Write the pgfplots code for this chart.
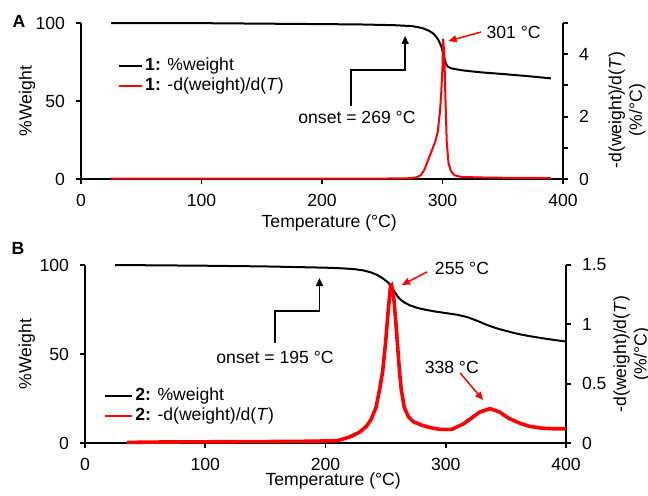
\documentclass[border=0pt]{standalone}
\usepackage{fontspec}
\setmainfont{Liberation Sans}
\usepackage{pgfplots}
\pgfplotsset{compat=1.18}
\usetikzlibrary{arrows.meta}
\newcommand{\fs}{\fontsize{8.8}{10.3}\selectfont}
\pgfplotsset{
  base/.style={scale only axis, anchor=south west, xmin=0, xmax=400,
    tick align=outside, major tick length=2.5pt, minor tick length=2.5pt,
    axis line style={line width=0.9pt,-},
    every tick/.style={line width=0.9pt, black},
    /pgf/number format/assume math mode=true,
    tick label style={font=\fs}, label style={font=\fs},
    clip=false},
  leftax/.style={base, ymin=0, ymax=100, axis x line*=bottom, axis y line*=left,
    xtick={0,100,200,300,400}, ytick={0,50,100},
    xticklabel shift=1.5pt, yticklabel shift=2pt,
    legend cell align=left,
    legend style={draw=none, fill=none, font=\fs, inner sep=0pt, row sep=0pt,
      nodes={inner sep=1.1pt}}},
  rightax/.style={base, axis x line=none, axis y line*=right, yticklabel shift=2pt,
    ylabel style={align=center, rotate=0}},
}
\begin{document}
\begin{tikzpicture}
\useasboundingbox (0,0) rectangle (324pt,247.5pt);
\node[font=\bfseries\fs] at (9.5pt,237pt) {A};
\node[font=\bfseries\fs] at (9pt,123.5pt) {B};
% ---------------- Panel A ----------------
\begin{axis}[leftax, at={(40.5pt,158pt)}, width=241pt, height=78pt,
  xlabel={Temperature (°C)}, ylabel={\%Weight},
  xlabel style={at={(axis description cs:0.515,-0.28)}, anchor=center},
  ylabel style={at={(axis description cs:-0.112,0.5)}, anchor=center},
  legend style={at={(axis description cs:0.076,0.793)}, anchor=north west},
  legend image code/.code={\draw[#1] (0pt,0pt) -- (11.5pt,0pt);}]
\addplot[black, line width=1pt] coordinates {
(25,100) (100,99.9) (165,99.5) (230,99.1) (260,98.6) (275,98) (283,96.8)
(288,95.3) (292,93.5) (295,91) (297,88.5) (299,85) (300,82) (301,79)
(302,76) (303,73.5) (304.5,72) (307,71) (315,69.8) (330,68.5) (350,67.3)
(370,66) (390,64.5)};
\addlegendentry{\textbf{1:} \%weight}
\addlegendimage{red, line width=1pt}
\addlegendentry{\textbf{1:} -d(weight)/d(\textit{T})}
\node[font=\fs] at (axis cs:359,94.2) {301 °C};
\draw[red, line width=0.75pt, -{Triangle[length=4pt,width=3.5pt]}] (axis cs:332,94.2) -- (axis cs:305,88.5);
\draw[black, line width=0.75pt, -{Triangle[length=4pt,width=3.5pt]}] (axis cs:224,46.8) -- (axis cs:224,69.9) -- (axis cs:269,69.9) -- (axis cs:269,91.7);
\node[font=\fs] at (axis cs:229,39.7) {onset = 269 °C};
\end{axis}
\begin{axis}[rightax, at={(40.5pt,158pt)}, width=241pt, height=78pt,
  ymin=0, ymax=5, ytick={0,2,4}, minor ytick={1,3,5},
  ylabel={-d(weight)/d(\textit{T})\\(\%/°C)},
  ylabel style={at={(axis description cs:1.133,0.442)}, anchor=center, rotate=0}]
\addplot[red, line width=1pt] coordinates {
(25,0.01) (100,0.01) (200,0.012) (250,0.015) (270,0.02) (278,0.05) (282,0.12) (285,0.3)
(287,0.5) (290,0.8) (292,1.0) (294,1.2) (296,1.5) (298,2.2) (299,2.8)
(300,3.6) (300.5,4.5) (301.5,4.0) (302.5,2.5) (303.5,1.2) (305,0.5)
(307,0.25) (310,0.12) (315,0.07) (330,0.05) (350,0.04) (370,0.035) (390,0.03)};
\end{axis}
% ---------------- Panel B ----------------
\begin{axis}[leftax, at={(42.5pt,26pt)}, width=240.5pt, height=89pt,
  xlabel={Temperature (°C)}, ylabel={\%Weight},
  xlabel style={at={(axis description cs:0.516,-0.213)}, anchor=center},
  ylabel style={at={(axis description cs:-0.121,0.5)}, anchor=center},
  legend style={at={(axis description cs:0.039,0.325)}, anchor=north west},
  legend image code/.code={\draw[#1] (0pt,0pt) -- (13.5pt,0pt);}]
\addplot[black, line width=1pt] coordinates {
(25,100) (100,99.6) (150,99.2) (200,98.5) (215,98.1) (225,97.6) (232,96.9)
(238,95.8) (243,94.4) (247,92.8) (251,90.8) (254,88.8) (257,85.5) (260,82.3)
(263,80.2) (266,78.8) (270,77.4) (275,76.2) (280,75.3)
(290,74) (300,73) (310,72) (318,70.7) (326,68.7) (334,66.4) (342,64.5) (350,63)
(360,61.3) (370,60) (380,58.9) (390,57.9) (400,57)};
\addlegendentry{\textbf{2:} \%weight}
\addlegendimage{red, line width=1pt}
\addlegendentry{\textbf{2:} -d(weight)/d(\textit{T})}
\node[font=\fs] at (axis cs:313.5,98.3) {255 °C};
\draw[red, line width=0.75pt, -{Triangle[length=4pt,width=3.5pt]}] (axis cs:284.4,96.1) -- (axis cs:263.6,88.8);
\node[font=\fs] at (axis cs:305,42.7) {338 °C};
\draw[red, line width=0.75pt, -{Triangle[length=4pt,width=3.5pt]}] (axis cs:312,39.3) -- (axis cs:331,24.2);
\draw[black, line width=0.75pt, -{Triangle[length=4pt,width=3.5pt]}] (axis cs:158,56.2) -- (axis cs:158,74.2) -- (axis cs:195,74.2) -- (axis cs:195,92.7);
\node[font=\fs] at (axis cs:158,48.3) {onset = 195 °C};
\end{axis}
\begin{axis}[rightax, at={(42.5pt,26pt)}, width=240.5pt, height=89pt,
  ymin=0, ymax=1.5, ytick={0,0.5,1,1.5},
  ylabel={-d(weight)/d(\textit{T})\\(\%/°C)},
  ylabel style={at={(axis description cs:1.137,0.5)}, anchor=center, rotate=0}]
\addplot[red, line width=1.8pt] coordinates {
(35,0.005) (60,0.008) (100,0.01) (150,0.012) (190,0.015) (210,0.02) (220,0.05)
(228,0.09) (234,0.14) (238,0.2) (242,0.3) (245,0.45) (247.5,0.6) (250,0.85)
(252,1.1) (254,1.32) (255,1.33) (257,1.2) (259,0.95) (261.4,0.62) (263,0.45)
(265.5,0.3) (269,0.22) (273,0.18) (280,0.15) (287,0.13) (295,0.115)
(305,0.115) (314.5,0.16) (320,0.2) (328,0.26) (336.8,0.29) (345,0.26)
(352,0.21) (362,0.165) (370,0.14) (380,0.125) (390,0.12) (400,0.12)};
\end{axis}
\end{tikzpicture}
\end{document}
